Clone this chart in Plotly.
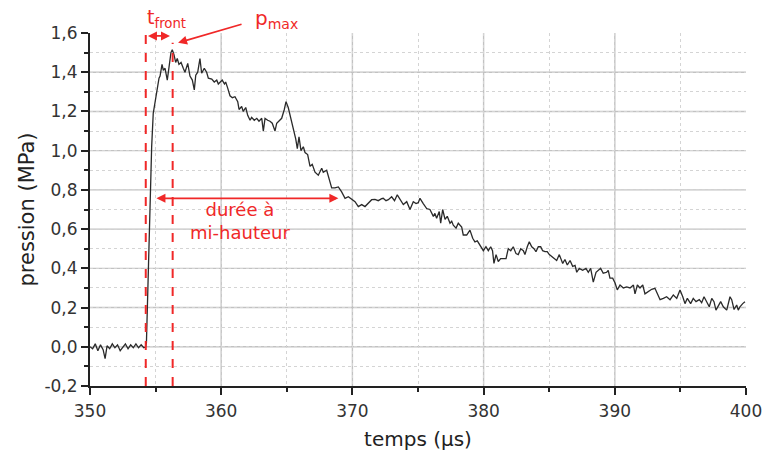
import plotly.graph_objects as go

# ---- data ----
temps = [
    350.0, 350.2, 350.4, 350.6, 350.8, 351.0, 351.15, 351.3, 351.5, 351.7, 351.9, 352.1,
    352.3, 352.5, 352.7, 352.9, 353.1, 353.3, 353.5, 353.7, 353.9, 354.1, 354.25,
    354.3, 354.4, 354.5, 354.6, 354.7, 354.82, 355.08, 355.26, 355.34, 355.49, 355.59,
    355.72, 355.89, 356.02, 356.17, 356.27, 356.40, 356.53, 356.65, 356.78, 356.94,
    357.11, 357.24, 357.45, 357.62, 357.80, 357.95, 358.06, 358.21, 358.38, 358.51,
    358.71, 358.89, 359.02, 359.28, 359.47, 359.66, 359.78, 359.91, 360.08, 360.25,
    360.34, 360.49, 360.67, 360.85, 361.05, 361.26, 361.36, 361.56, 361.68, 361.87,
    362.02, 362.20, 362.32, 362.52, 362.71, 362.88, 363.09, 363.21, 363.34, 363.54,
    363.72, 363.89, 364.10, 364.23, 364.41, 364.61, 364.81, 364.94, 365.11, 365.32,
    365.50, 365.68, 365.80, 365.93, 366.08, 366.26, 366.39, 366.59, 366.77, 366.94,
    367.15, 367.40, 367.66, 367.78, 368.04, 368.24, 368.42, 368.67, 368.93, 369.18,
    369.44, 369.69, 369.95, 370.20, 370.45, 370.71, 370.96, 371.21, 371.47, 371.72,
    371.97, 372.23, 372.35, 372.56, 372.74, 372.99, 373.21, 373.42, 373.63, 373.88,
    374.14, 374.39, 374.64, 374.85, 375.02, 375.15, 375.40, 375.66, 375.91, 376.17,
    376.29, 376.42, 376.62, 376.73, 376.88, 377.06, 377.23, 377.44, 377.57, 377.69,
    377.90, 378.07, 378.33, 378.45, 378.71, 378.96, 379.17, 379.34, 379.52, 379.73,
    379.98, 380.18, 380.36, 380.54, 380.68, 380.79, 380.95, 381.12, 381.30, 381.52,
    381.71, 381.88, 382.07, 382.26, 382.47, 382.64, 382.83, 383.03, 383.15, 383.33,
    383.48, 383.67, 383.84, 383.99, 384.17, 384.35, 384.50, 384.68, 384.85, 385.01,
    385.19, 385.37, 385.57, 385.77, 385.95, 386.03, 386.20, 386.38, 386.59, 386.79,
    386.97, 387.10, 387.29, 387.55, 387.80, 387.98, 388.16, 388.36, 388.57, 388.74,
    388.92, 389.12, 389.38, 389.50, 389.63, 389.84, 390.02, 390.19, 390.40, 390.65,
    390.91, 391.16, 391.42, 391.54, 391.72, 391.92, 392.13, 392.30, 392.55, 392.81,
    393.06, 393.24, 393.45, 393.70, 393.95, 394.21, 394.46, 394.72, 394.97, 395.18,
    395.35, 395.53, 395.78, 395.98, 396.19, 396.44, 396.62, 396.80, 397.00, 397.20,
    397.39, 397.56, 397.71, 397.89, 398.07, 398.27, 398.53, 398.78, 398.91, 399.09,
    399.29, 399.41, 399.54, 399.75, 399.92,
]
pression = [
    0.00, -0.01, 0.015, -0.02, 0.01, -0.015, -0.06, 0.005, -0.01, 0.015, -0.005, 0.01,
    -0.02, 0.0, 0.015, -0.01, 0.01, -0.005, 0.015, -0.005, 0.01, -0.005, 0.0,
    0.02, 0.30, 0.60, 0.85, 1.02, 1.19, 1.31, 1.37, 1.38, 1.44, 1.41,
    1.42, 1.36, 1.44, 1.50, 1.515, 1.49, 1.45, 1.47, 1.44, 1.45,
    1.42, 1.40, 1.445, 1.38, 1.36, 1.31, 1.385, 1.40, 1.47, 1.395,
    1.42, 1.40, 1.37, 1.365, 1.35, 1.36, 1.34, 1.35, 1.36, 1.34,
    1.35, 1.32, 1.28, 1.27, 1.275, 1.25, 1.21, 1.225, 1.20, 1.22,
    1.18, 1.155, 1.17, 1.155, 1.165, 1.15, 1.165, 1.10, 1.165, 1.155,
    1.15, 1.14, 1.10, 1.14, 1.15, 1.165, 1.21, 1.25, 1.22, 1.165,
    1.11, 1.06, 1.01, 1.07, 1.00, 1.02, 0.99, 0.98, 0.92, 0.93,
    0.89, 0.875, 0.91, 0.89, 0.90, 0.85, 0.81, 0.81, 0.815, 0.79,
    0.757, 0.765, 0.75, 0.74, 0.715, 0.725, 0.715, 0.73, 0.75, 0.752,
    0.745, 0.755, 0.757, 0.745, 0.75, 0.765, 0.745, 0.775, 0.75, 0.725,
    0.74, 0.70, 0.74, 0.73, 0.735, 0.757, 0.73, 0.705, 0.70, 0.665,
    0.68, 0.655, 0.69, 0.63, 0.70, 0.65, 0.665, 0.63, 0.64, 0.62,
    0.605, 0.63, 0.61, 0.57, 0.57, 0.595, 0.553, 0.535, 0.54, 0.52,
    0.49, 0.51, 0.49, 0.51, 0.49, 0.425, 0.47, 0.435, 0.45, 0.45,
    0.45, 0.50, 0.49, 0.51, 0.475, 0.47, 0.50, 0.49, 0.47, 0.51,
    0.535, 0.51, 0.50, 0.485, 0.51, 0.51, 0.49, 0.485, 0.485, 0.47,
    0.46, 0.45, 0.44, 0.47, 0.44, 0.425, 0.445, 0.417, 0.44, 0.41,
    0.415, 0.38, 0.40, 0.39, 0.40, 0.38, 0.40, 0.33, 0.38, 0.39,
    0.40, 0.375, 0.38, 0.39, 0.35, 0.35, 0.325, 0.29, 0.315, 0.30,
    0.305, 0.30, 0.315, 0.27, 0.315, 0.30, 0.315, 0.27, 0.28, 0.293,
    0.298, 0.27, 0.24, 0.247, 0.255, 0.24, 0.264, 0.247, 0.29, 0.255,
    0.22, 0.247, 0.22, 0.247, 0.23, 0.24, 0.225, 0.255, 0.23, 0.204,
    0.247, 0.23, 0.187, 0.213, 0.23, 0.204, 0.187, 0.255, 0.24, 0.19,
    0.213, 0.187, 0.204, 0.22, 0.23,
]

x_ticks = [350, 360, 370, 380, 390, 400]
y_ticks = [-0.2, 0.0, 0.2, 0.4, 0.6, 0.8, 1.0, 1.2, 1.4, 1.6]
y_tick_labels = ["-0,2", "0,0", "0,2", "0,4", "0,6", "0,8", "1,0", "1,2", "1,4", "1,6"]

t_debut = 354.25      # début du front
t_pmax = 356.3        # instant du maximum
p_demi = 0.757        # mi-hauteur
t_demi_fin = 368.93   # fin de la durée à mi-hauteur

RED = "#f02828"
FONT = "DejaVu Sans, sans-serif"
GRID = "#c2c2c2"

fig = go.Figure()
fig.add_trace(go.Scatter(x=temps, y=pression, mode="lines",
                         line=dict(color="#2a2a2a", width=1.3),
                         showlegend=False, hoverinfo="skip"))

# solid major grid lines (interior ticks only, as in the original)
for xv in x_ticks[1:-1]:
    fig.add_shape(type="line", xref="x", yref="paper", x0=xv, x1=xv, y0=0, y1=1,
                  layer="below", line=dict(color=GRID, width=1.4))
for yv in y_ticks[1:-1]:
    fig.add_shape(type="line", xref="paper", yref="y", x0=0, x1=1, y0=yv, y1=yv,
                  layer="below", line=dict(color=GRID, width=1.4))

# dashed vertical markers
fig.add_shape(type="line", x0=t_debut, x1=t_debut, y0=-0.2, y1=1.6,
              line=dict(color=RED, width=2, dash="dash"))
fig.add_shape(type="line", x0=t_pmax, x1=t_pmax, y0=-0.2, y1=1.55,
              line=dict(color=RED, width=2, dash="dash"))

# t_front double arrow
fig.add_annotation(x=356.1, y=1.585, ax=t_debut + 0.05, ay=1.585,
                   xref="x", yref="y", axref="x", ayref="y",
                   text="", showarrow=True, arrowhead=2, arrowside="end+start",
                   arrowsize=1, arrowwidth=1.8, arrowcolor=RED)
fig.add_annotation(x=355.85, y=1.04, xref="x", yref="paper", yanchor="middle",
                   text="t<sub>front</sub>", showarrow=False,
                   font=dict(family=FONT, size=19, color=RED))

# p_max arrow
fig.add_annotation(x=356.71, y=1.55, xref="x", yref="y",
                   ax=65, ay=-19, text="", showarrow=True, arrowhead=2,
                   arrowsize=1, arrowwidth=1.8, arrowcolor=RED)
fig.add_annotation(x=364.2, y=1.04, xref="x", yref="paper", yanchor="middle",
                   text="p<sub>max</sub>", showarrow=False,
                   font=dict(family=FONT, size=20, color=RED))

# durée à mi-hauteur double arrow
fig.add_annotation(x=t_demi_fin, y=p_demi, ax=354.95, ay=p_demi,
                   xref="x", yref="y", axref="x", ayref="y",
                   text="", showarrow=True, arrowhead=2, arrowside="end+start",
                   arrowsize=1, arrowwidth=1.8, arrowcolor=RED)
fig.add_annotation(x=361.4, y=0.64, xref="x", yref="y",
                   text="durée à<br>mi-hauteur", showarrow=False, align="center",
                   font=dict(family=FONT, size=18, color=RED))

axis_common = dict(
    showline=True, linecolor="#222222", linewidth=2,
    ticks="outside", ticklen=7, tickwidth=1.5, tickcolor="#222222",
    showgrid=False, zeroline=False,
    tickfont=dict(family=FONT, size=17, color="#333333"),
)

fig.update_xaxes(
    range=[350, 400], tickvals=x_ticks, ticklabelstandoff=2,
    title=dict(text="temps (µs)", font=dict(family=FONT, size=20, color="#222222"), standoff=12),
    minor=dict(dtick=5, ticks="outside", ticklen=4, tickcolor="#222222",
               showgrid=True, gridcolor="#d4d4d4", griddash="dot", gridwidth=1),
    **axis_common,
)
fig.update_yaxes(
    range=[-0.2, 1.6], tickvals=y_ticks, ticktext=y_tick_labels,
    title=dict(text="pression (MPa)", font=dict(family=FONT, size=21, color="#222222"), standoff=4),
    minor=dict(dtick=0.1, tick0=0, ticks="outside", ticklen=4, tickcolor="#222222",
               showgrid=True, gridcolor="#d4d4d4", griddash="dot", gridwidth=1),
    **axis_common,
)

fig.update_layout(
    width=763, height=461,
    margin=dict(l=90, r=17, t=33, b=75, autoexpand=False),
    paper_bgcolor="white", plot_bgcolor="white",
    font=dict(family=FONT),
)

fig.write_html("out.html", config={"displayModeBar": False},
               post_script="document.body.style.margin='0';")
